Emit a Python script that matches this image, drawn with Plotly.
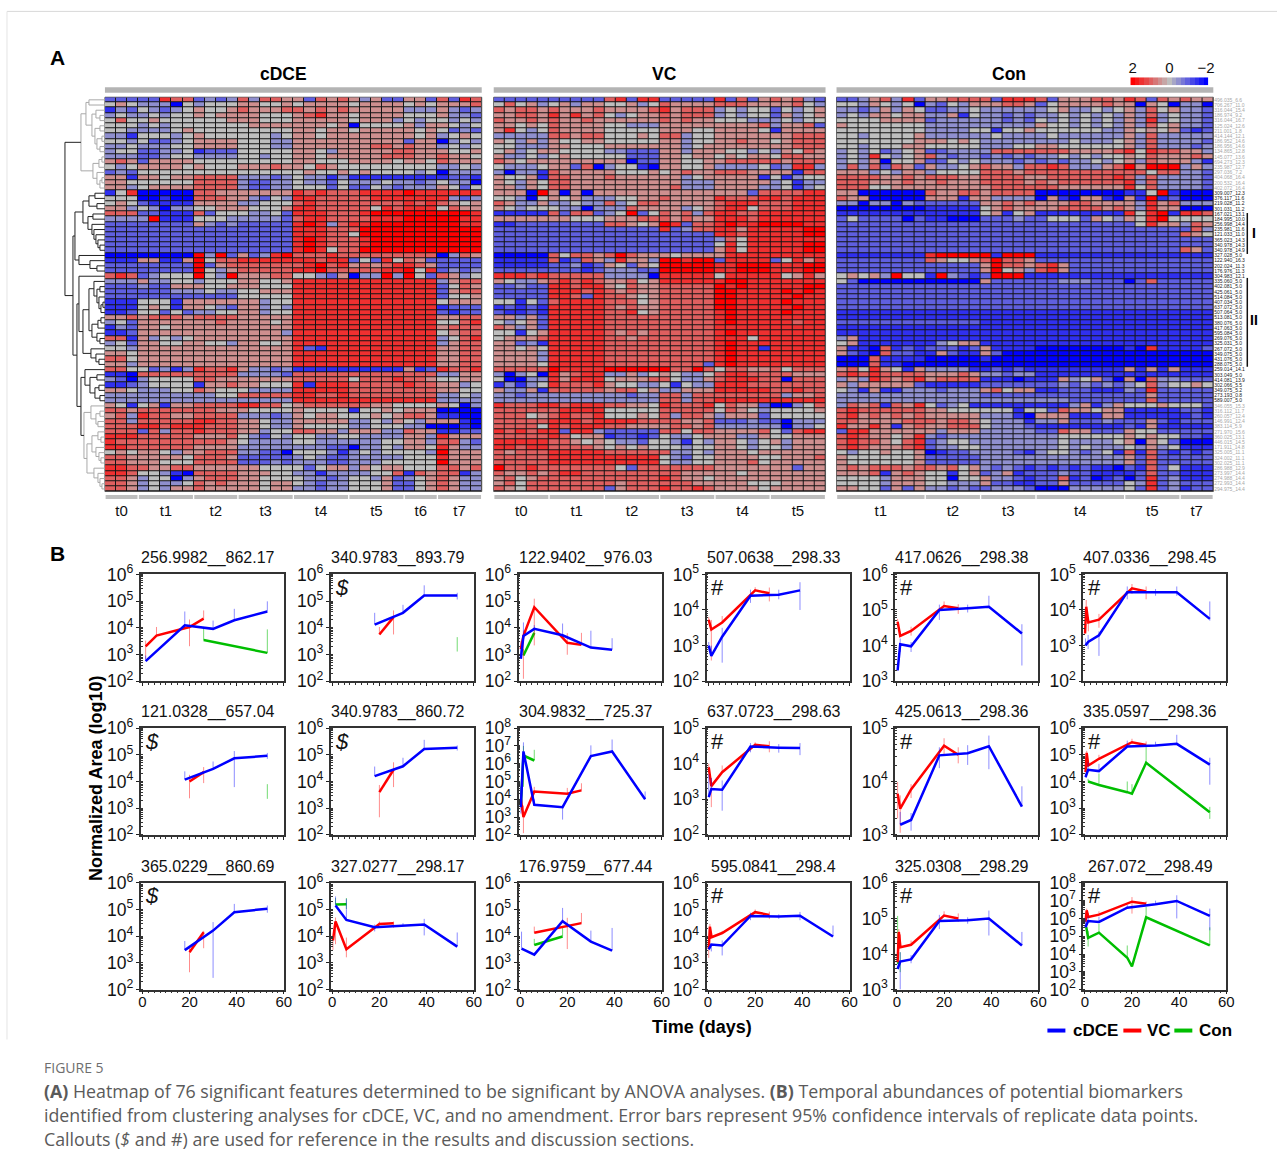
import plotly.graph_objects as go

W, H = 1285, 1171
FONT = "Liberation Sans"
CAP = "Open Sans"

# ---------- heatmap data: one digit per cell, 0 = -2 (blue) .. 4 = 0 (grey) .. 8 = +2 (red)
CDCE_ROWS = [
"222 22766 2323 63665 52656 53522 552 6276","454 33304 3444 55445 45555 45555 454 5556",
"132 43234 5445 65556 65656 55555 333 5323","343 34344 5455 55444 56755 45555 444 5332",
"464 45444 4445 55444 55555 45553 434 4343","444 34344 4444 45555 55545 04444 535 5434",
"443 33345 4444 44444 55455 45555 545 4232","331 44434 5444 44434 55455 55555 545 3454",
"443 42234 5555 44433 55555 55555 255 0343","334 33344 5555 44433 55555 55665 655 3434",
"344 22334 1222 44444 55435 55556 655 5445","333 22344 3333 44344 55455 55566 655 6554",
"565 25555 4444 44444 55444 55554 554 6555","434 55554 5444 55565 54654 44444 444 3343",
"232 44444 4444 44444 45445 45444 434 0333","551 55455 6666 33323 43313 11111 111 1221",
"554 44444 6666 32233 43324 33343 323 4330","553 45555 6666 32233 44424 22432 333 5424",
"147 00000 6655 55555 76766 67777 877 7777","444 00100 6665 53243 77666 66777 777 7323",
"454 21111 5555 33444 67666 66666 767 6545","553 43033 4455 54445 77666 66476 777 4655",
"666 22111 6244 43342 77766 67888 888 8887","333 38111 4443 33332 67766 66777 888 8877",
"222 22222 5323 22222 78736 77888 888 8877","222 22222 2222 22222 77766 68888 888 8888",
"222 22222 2222 22222 77766 48888 888 8888","222 22222 2222 22222 78766 67888 888 8888",
"222 22222 2222 22222 78766 67888 888 8888","222 22222 2222 22222 78746 68888 888 8888",
"000 00000 8382 52378 66676 66666 666 0365","111 55115 8466 77777 77677 24274 652 2222",
"222 22222 8256 66666 67867 56567 765 2222","222 22222 8435 66666 77866 66677 847 2323",
"676 23444 8438 55566 44325 03383 842 6534","333 53344 3444 55445 77777 77777 777 3566",
"222 32255 5445 55444 77777 77777 777 2465","222 22233 3433 44555 77777 77777 777 2566",
"222 22222 2222 44444 77777 77777 777 2445","111 44415 5555 55344 77777 77777 777 4555",
"111 45415 5432 55343 77777 77777 777 1222","112 44242 3344 55344 77777 77777 777 2122",
"556 56665 6666 55555 77777 77777 777 5566","342 55555 5565 55545 77777 77777 777 4467",
"132 55455 5555 55555 77777 77777 777 5666","112 55555 5555 55553 77777 77777 777 4566",
"661 53434 5555 55555 77777 77777 777 3467","342 55445 5443 55445 77777 77777 777 3566",
"443 55555 5555 55555 72177 77777 777 5566","554 55555 5555 55555 77777 77777 777 5566",
"664 55555 5555 55555 77777 77777 777 5566","553 55555 5555 55555 77777 77777 777 5566",
"664 42313 7667 53323 11111 11111 512 7667","110 66666 6666 33332 66666 66666 666 3355",
"320 34444 6655 55555 66666 46667 665 4455","112 34444 1556 55444 71777 66666 766 5534",
"554 33344 6544 43333 77777 66666 666 5544","333 33333 3344 66666 77667 66666 666 3343",
"333 33333 3333 33333 77777 77777 777 3333","541 45155 6666 77664 56666 66554 444 5403",
"665 66666 6655 54444 54444 14454 555 0000","563 76655 6666 33323 54554 44545 665 1100",
"663 66666 7766 55433 55555 33435 435 5510","666 77677 7666 55433 54444 33444 330 0010",
"666 26366 7666 55344 66553 55533 655 1122","777 66666 5556 43243 44334 43333 553 7555",
"766 66666 6665 43333 44333 33344 553 6632","776 66666 5555 33333 33322 03343 554 7533",
"454 55435 5666 33220 44431 34344 443 8555","665 55554 6665 22222 34322 33333 444 7555",
"665 55444 6666 22232 33322 33344 444 8555","776 65566 5555 55444 42455 35455 444 6656",
"776 44310 6666 55544 33133 33446 165 6613","665 34403 5666 55444 43323 44352 345 6533",
"665 34334 6565 55455 43233 44452 245 6533","665 34355 6555 55455 33233 44452 245 6533",
]
VC_ROWS = [
"22222 22222 67277 22222 72625 65632","46453 45355 44534 65555 66655 55643","65665 65556 55556 75666 34344 24345",
"55665 75756 43455 65666 34344 25345","65565 65565 55555 65655 44433 34344","55454 65555 44333 55555 55556 35562",
"57434 65555 44444 55544 55554 15555","33333 66566 44454 66344 55555 55666","54353 54455 44444 55344 55655 45666",
"44333 55444 55555 55345 55555 55666","45345 54444 33222 55355 54434 35465","53343 45444 44222 55455 45455 46655",
"65455 55555 55022 55445 56666 65666","43334 55260 34410 55445 33334 23773","30331 65555 54445 45655 66655 55166",
"54451 66555 65555 55345 55551 41344","54354 66555 55555 55333 55555 34133","55354 66555 55555 56333 55553 34134",
"55508 50505 55555 55555 55526 66677","44304 54533 34455 65555 76667 76777","65335 33433 63466 55555 67776 66777",
"54344 43303 33655 55345 67746 66777","11111 62662 34824 65636 77667 77777","55555 55444 55566 65655 77767 77777",
"11222 22222 66545 87266 78778 88877","22222 22222 22222 72366 77577 77788","22222 22222 22222 22222 77677 77788",
"22222 22222 22222 22222 36477 77777","22222 22222 22222 22222 47477 77788","22222 22222 22222 22222 57477 77788",
"00000 64665 68655 54555 57777 77777","11111 61265 37553 88788 27777 24757","11111 22312 54254 88888 77888 77788",
"22222 22212 33322 88888 77888 77788","77767 66666 33330 77777 47777 74575","54335 67676 55645 77777 78877 77777",
"22322 77677 54655 66666 87877 77788","22222 77767 65655 66666 88777 78787","22222 77627 66545 66666 88777 77877",
"44142 67777 66645 66666 88777 78777","12121 77777 65655 66666 88777 77877","21121 77777 66745 66666 78777 78777",
"55352 77777 66666 66666 78777 77777","43452 77777 66666 66666 78777 77677","65352 77777 66666 66666 77777 77777",
"44145 77777 65656 66666 78777 77777","45556 77777 66566 66666 77747 77777","55231 77777 66666 66666 78777 77777",
"55454 77777 66666 66666 78771 77777","55553 77777 66666 66666 78777 77777","55553 77777 66666 66666 78777 77777",
"55554 77777 66666 66662 78777 77777","66666 87777 88888 86686 46655 64666","30340 75677 33534 54334 67766 66555",
"40033 75777 45556 64335 67776 60666","13134 76667 54433 41433 77766 66666","53351 66666 56645 33555 77777 66766",
"33233 33333 33233 66366 66666 63556","33333 33333 33333 66366 77777 77777","76667 76777 66554 76667 46552 00346",
"66666 67777 44444 66666 46543 44445","66645 67667 44454 63665 35552 44444","66666 77767 77766 66556 22232 20333",
"66664 76777 66555 56656 33333 30334","76767 72773 22222 66466 55556 42677","66666 76455 12212 43345 55335 44555",
"77777 66545 43324 43143 55434 53555","77677 66665 45454 44344 55434 43555","65666 77777 66666 63343 55545 55555",
"66666 77777 77777 43244 55554 45556","66666 77777 77777 43344 55564 55555","86676 66666 64266 66666 55555 55255",
"65565 67766 66666 66555 55455 55555","56456 66666 66666 76554 55555 55555","56466 66666 65666 66655 55544 45555",
"65466 66666 25666 76676 55554 55555",
]
CON_ROWS = [
"22356372 55666 62777 62555665 76265 655","44354340 32435 55665 24555565 50540 330","33235354 22334 33333 34533434 53645 332",
"34355455 33514 33232 33434343 53634 332","44445555 23333 33232 43434343 53734 332","54444444 33333 33333 54434343 53645 332",
"44444444 33334 41445 44444433 54545 212","44344445 33333 34333 34333333 53633 333","44444445 55454 33333 33343334 53633 332",
"44344455 44444 33344 55444444 53633 323","34342345 22333 36666 66655556 74766 553","34374345 63233 23232 33434344 54655 565",
"34350445 22434 33323 23233434 53655 531","36362652 53345 65536 67633356 85888 353","55534355 34444 66656 66666666 66466 332",
"66665565 66655 66665 56666667 63633 332","66655565 56555 66665 65666666 73633 332","66644555 55555 56666 66555555 74633 332",
"55000000 65566 56666 00000000 11481 000","65500000 55515 53333 05105510 51812 000","33033032 22222 55656 55566555 53756 333",
"00000000 11111 45655 55666656 53755 000","11111111 11111 45145 11111111 74781 776","24222202 11000 22232 24442543 54784 444",
"22222222 22222 22222 22222222 24755 365","22222222 22222 22222 22222222 22222 263","22222222 22222 22222 22222222 22222 654",
"22222222 22222 22222 22222222 22222 222","22222222 22222 22222 22222222 22222 222","22222222 22222 22222 22222222 22222 652",
"11111111 78888 81888 11111111 11111 111","22222222 65445 68665 22222222 22222 222","22222222 22222 58665 67522222 22222 222",
"22222222 22222 58453 67522222 22222 222","45453844 18321 28881 11111111 11111 111","42000000 00000 52222 22333222 02622 222",
"22222222 22222 22222 22222222 22222 222","22222222 22222 22222 22222222 22222 222","22222222 22222 22222 22222222 22222 222",
"22222222 22222 22222 22222222 22222 222","22222222 22222 22222 22222222 22222 222","11111111 11111 11111 11111111 11111 111",
"11111111 11111 11111 11111111 11111 111","22222222 22222 11111 11111111 11111 111","11111111 11111 11111 11111111 11111 111",
"11111111 11111 11111 11111111 11111 111","35111111 11111 11111 11111111 11111 111","45111111 13455 11111 11111111 11111 111",
"51106121 22212 51111 00000000 10711 112","52106221 15211 52000 00000000 00000 000","00061111 00000 10000 00000000 00000 000",
"00061100 00000 00000 00000000 00000 000","56475415 33331 12121 11111111 51515 111","67676666 55565 33233 11111111 11111 111",
"35376567 56666 11101 11534520 50633 222","53555552 11111 22222 22323232 34634 454","43151133 32333 56455 11222111 32722 222",
"33333333 33333 22222 22222222 22522 222","33333333 33333 33333 33322222 22622 222","36561657 42341 11111 11135135 44454 442",
"67666666 55444 44414 42655455 11111 221","67565656 55555 33310 55511155 11111 121","66555566 65665 43331 33522232 22521 222",
"75575156 55666 43332 11111111 21511 111","27755555 53555 33333 22655222 54422 222","67655457 32333 33333 33444444 54544 221",
"67665467 23443 33333 33433334 50542 000","67655567 23344 33333 33434333 43534 111","43445445 01223 33321 34432341 61621 212",
"54444445 22222 33333 33333333 52622 222","54444445 22222 33333 33333333 52622 222","56566656 65645 32321 21212110 21624 111",
"55561565 44145 23512 22322111 12622 111","44443555 44044 53321 22612012 02723 111","44443555 44333 52211 22522222 43723 222",
"55442525 33232 23332 00033333 42723 122",
]
ROW_LABELS = ["496.035_6.6","706.267_11.0","316.044_15.4","186.974_9.2","316.044_16.7","125.024_12.6","211.001_1.8","414.144_12.1",
"186.952_14.6","186.956_14.6","134.865_12.8","145.077_13.6","694.273_12.3","235.987_12.7","297.036_7.2","404.068_16.4","200.532_16.4",
"402.072_16.4","309.007_12.3","376.117_11.6","219.028_11.2","301.031_11.2","167.021_13.1","184.995_10.0","256.998_14.4","235.981_11.6",
"121.033_11.0","365.023_14.3","340.978_14.3","340.978_14.9","327.028_5.0","122.940_16.3","202.024_11.3","176.976_11.3","304.983_12.1",
"335.060_5.0","402.081_5.0","425.061_5.0","514.084_5.0","407.034_5.0","637.072_5.0","507.064_5.0","513.081_5.0","380.076_5.0",
"417.063_5.0","595.084_5.0","269.076_5.0","325.031_5.0","267.072_5.0","349.075_5.0","431.076_5.0","288.075_5.0","259.014_14.1",
"303.049_5.0","414.081_13.9","302.066_5.5","349.075_5.2","273.193_0.8","589.007_5.0","346.055_15.3","316.112_11.7","260.057_12.4",
"146.991_12.4","383.114_5.9","271.970_15.6","360.025_13.1","446.015_14.5","171.911_14.8","325.005_11.1","324.002_11.1","302.025_11.1",
"286.988_12.9","273.997_14.4","274.988_14.4","272.993_14.4","294.975_14.4"]
CDCE_GROUPS = [("t0",3),("t1",5),("t2",4),("t3",5),("t4",5),("t5",5),("t6",3),("t7",4)]
VC_GROUPS = [("t0",5),("t1",5),("t2",5),("t3",5),("t4",5),("t5",5)]
CON_GROUPS = [("t1",8),("t2",5),("t3",5),("t4",8),("t5",5),("t7",3)]
COLORBAR_VALUES = [2,1.75,1.5,1.25,1,.75,.5,.25,0,-.25,-.5,-.75,-1,-1.25,-1.5,-1.75,-2]

# dendrogram: [height, child, child]; leaves are row numbers
TREE_TOP = [24,[19,[16,0,1],[13,[9,2,[5,3,4]],[10,[5,5,6],[8,[3,7,8],[5,9,10]]]]],[12,[6,[3,11,12],13],[8,14,[5,[3,15,16],17]]]]
TREE_M1 = [22,[16,[10,18,19],[8,20,21]],[17,[12,22,23],[13,24,[11,25,[9,26,[7,27,[5,28,29]]]]]]]
TREE_M2 = [26,30,[15,31,[8,32,33]]]
TREE_L = [22,[16,[11,35,[8,[5,36,37],[6,38,[4,[2,39,40],41]]]],[13,[7,[4,42,43],44],[8,45,[5,46,47]]]],[14,48,[9,49,[6,50,51]]]]
TREE_N = [20,52,[15,[8,53,54],[10,[6,55,56],[5,57,58]]]]
TREE_G = [21,[14,59,[9,[5,60,61],[7,62,63]]],[18,[13,[7,64,[4,65,66]],[9,67,[6,68,[4,69,70]]]],[11,71,[7,72,[5,73,[3,74,75]]]]]]
TREE_ROOT = [40,TREE_TOP,[32,[30,TREE_M1,TREE_M2],[28,[26,34,TREE_L],[24,TREE_N,TREE_G]]]]
GREY_LEAVES = set(range(0,18)) | set(range(59,76))

# ---------- line panels
PANEL_TITLES = ["256.9982__862.17","340.9783__893.79","122.9402__976.03","507.0638__298.33","417.0626__298.38","407.0336__298.45",
"121.0328__657.04","340.9783__860.72","304.9832__725.37","637.0723__298.63","425.0613__298.36","335.0597__298.36",
"365.0229__860.69","327.0277__298.17","176.9759__677.44","595.0841__298.4","325.0308__298.29","267.072__298.49"]
PANEL_MARKS = ["","$","","#","#","#","$","$","","#","#","#","$","","","#","#","#"]
PANEL_LOG_RANGES = [(2,6),(2,6),(2,6),(2,5),(3,6),(2,5),(2,6),(2,6),(2,8),(2,5),(3,5),(2,6),(2,6),(2,6),(2,6),(2,6),(3,6),(2,8)]
# every point: (day, log10 value, log10 upper bar, log10 lower bar)
CDCE_POINTS = [
[(1.4,2.75,2.96,None),(18,4.09,4.61,None),(30,3.96,4.27,None),(39,4.28,4.71,None),(53,4.61,4.99,None)],
[(18,4.12,4.56,None),(30,4.56,4.86,None),(39,5.21,5.59,None),(53,5.21,5.31,5.06)],
[(0.3,2.84,3.2,None),(1.4,3.69,4.2,None),(6,3.96,4.1,None),(18,3.72,4.16,None),(30,3.26,3.89,None),(39,3.18,3.61,None)],
[(0.3,3.0,3.1,None),(1.4,2.71,3.0,None),(6,3.25,3.5,2.52),(18,4.4,4.57,4.2),(30,4.43,4.57,4.3),(39,4.55,4.78,4.0)],
[(0.3,3.3,3.5,None),(1.4,4.04,4.2,3.82),(6,3.98,4.1,3.82),(18,5.0,5.15,4.72),(30,5.05,5.15,4.93),(39,5.09,5.4,None),(53,4.34,4.6,3.44)],
[(0.3,3.0,3.2,None),(1.4,3.1,3.3,2.9),(6,3.29,3.4,2.71),(18,4.5,4.66,4.3),(30,4.5,4.59,4.4),(39,4.5,4.66,4.4),(53,3.75,4.24,3.7)],
[(18,4.07,4.38,None),(30,4.47,4.75,None),(39,4.87,5.14,3.79),(53,4.96,5.07,4.85)],
[(18,4.2,4.56,None),(30,4.57,4.89,None),(39,5.22,5.56,None),(53,5.26,5.35,5.16)],
[(0.3,3.56,4.7,3.2),(1.4,6.69,7.2,None),(6,3.69,4.0,None),(18,3.56,None,2.86),(30,6.43,7.03,None),(39,6.69,7.36,None),(53,4.0,4.44,None)],
[(0.3,3.06,3.7,None),(1.4,3.29,3.6,None),(6,3.27,3.53,2.68),(18,4.48,4.58,4.32),(30,4.45,4.55,4.31),(39,4.44,4.58,4.24)],
[(1.4,3.19,3.43,None),(6,3.28,3.41,3.08),(18,4.49,4.64,4.25),(30,4.53,4.68,4.31),(39,4.66,4.86,4.23),(53,3.53,3.91,None)],
[(0.3,4.16,4.3,None),(1.4,4.44,4.72,None),(6,4.39,4.66,None),(18,5.31,5.53,None),(30,5.35,5.49,None),(39,5.41,5.75,None),(53,4.63,4.89,3.88)],
[(18,3.48,3.82,None),(30,4.21,4.53,2.44),(39,4.9,5.21,None),(53,5.03,5.15,4.88)],
[(1.4,5.15,5.49,None),(6,4.61,5.4,None),(18,4.34,4.44,4.18),(30,4.4,4.49,None),(39,4.44,4.65,4.03),(53,3.61,4.14,None)],
[(0.6,3.54,4.17,None),(6,3.31,None,None),(18,4.56,5.06,None),(30,3.8,4.21,None),(39,3.46,4.31,None)],
[(0.3,3.51,None,None),(1.4,3.69,None,3.43),(6,3.65,3.84,3.28),(18,4.76,4.88,4.6),(30,4.74,4.82,4.65),(39,4.77,4.91,4.6),(53,3.99,4.4,None)],
[(0.3,3.58,None,None),(1.4,3.79,4.05,3.0),(6,3.85,3.97,3.74),(18,4.93,5.1,4.7),(30,4.95,5.03,4.85),(39,5.0,5.22,4.52),(53,4.24,4.62,None)],
[(0.3,5.5,6.0,None),(1.4,5.85,6.1,None),(6,5.8,6.1,None),(18,6.6,6.75,None),(30,6.8,7.0,None),(39,6.98,7.3,6.0),(53,6.14,6.55,5.33)],
]
VC_POINTS = [
[(1.4,3.3,3.52,2.83),(6,3.71,4.03,None),(20,4.03,4.31,3.31),(26,4.34,4.65,None)],
[(20,3.75,4.03,None),(26,4.4,4.65,3.75)],
[(0.3,3.2,3.5,None),(1.4,3.7,3.9,2.09),(6,4.77,5.09,3.34),(20,3.44,3.8,2.99),(26,3.36,3.81,None)],
[(0.3,3.72,3.8,None),(1.4,3.45,3.72,2.58),(6,3.65,3.83,None),(20,4.55,4.64,None),(26,4.47,4.63,4.24)],
[(0.3,4.67,4.75,None),(1.4,4.27,4.4,None),(6,4.41,4.53,4.28),(20,5.11,5.24,None),(26,5.05,5.16,4.89)],
[(0.1,3.34,3.6,None),(0.6,4.09,4.28,None),(1.5,3.65,3.8,3.4),(6,3.73,3.89,3.5),(20,4.61,4.73,4.45),(26,4.52,4.66,4.3)],
[(20,4.0,4.25,3.37),(26,4.35,4.54,3.94)],
[(20,3.6,3.87,2.66),(26,4.44,4.72,3.79)],
[(0.3,4.0,4.3,None),(1.4,3.0,3.65,2.1),(6,4.44,4.7,None),(20,4.31,4.64,None),(26,4.5,4.9,None)],
[(0.3,3.9,4.0,None),(1.4,3.37,3.6,2.78),(6,3.76,3.95,None),(20,4.53,4.6,None),(26,4.49,4.63,4.32)],
[(0.3,3.77,3.99,3.31),(1.4,3.49,3.74,3.04),(6,3.85,3.95,3.69),(20,4.67,4.81,4.49),(26,4.5,4.64,4.34)],
[(0.3,4.35,4.6,None),(0.8,5.07,5.15,None),(1.5,4.6,4.7,None),(6,4.85,5.0,None),(20,5.47,5.6,None),(26,5.37,5.5,None)],
[(20,3.4,3.6,2.65),(26,4.15,4.2,3.55)],
[(0.3,3.84,None,3.49),(1.4,4.55,4.7,3.7),(6,3.51,3.95,3.21),(20,4.46,4.55,None),(26,4.49,4.55,4.32)],
[(6,4.13,4.36,None),(20,4.4,4.69,3.52),(26,4.49,4.87,None)],
[(0.3,3.53,None,3.19),(0.8,4.36,4.46,None),(1.5,3.96,4.1,None),(6,4.12,4.2,None),(20,4.9,5.0,None),(26,4.8,4.92,4.65)],
[(0.3,3.77,None,None),(0.8,4.62,4.7,None),(1.5,4.19,4.55,None),(6,4.26,4.38,None),(20,5.08,5.2,None),(26,5.0,5.14,4.9)],
[(0.3,5.8,None,None),(0.8,6.45,6.55,None),(1.5,6.08,6.3,None),(6,6.21,6.4,None),(20,6.94,7.2,6.27),(26,6.83,6.95,None)],
]
CON_POINTS = [
[(26,3.54,3.96,None),(53,3.06,3.94,None)],
[(53,3.11,3.65,None)],
[(1.4,2.96,3.2,None),(6,3.81,4.0,None)],
[],[],[],
[(53,3.35,3.9,None)],
[],
[(0.3,3.65,4.0,None),(1.4,6.46,7.0,4.7),(6,6.18,6.78,None)],
[],[],
[(1.4,4.0,4.1,None),(6,3.87,4.3,None),(18,3.6,4.0,None),(20,3.54,3.9,None),(26,4.7,5.29,None),(53,2.85,3.05,2.6)],
[],
[(1.4,5.19,5.43,None),(6,5.2,5.43,5.02)],
[(6,3.67,3.9,None),(18,3.99,4.31,None)],
[],
[(0.3,3.72,5.07,None),(1.4,3.79,4.05,3.49)],
[(0.6,5.52,5.7,None),(1.4,4.91,5.3,4.42),(6,5.2,5.7,None),(18,3.79,4.48,None),(20,3.3,3.5,None),(26,6.06,6.64,None),(53,4.48,5.5,None)],
]

CAPTION_HEAD = "FIGURE 5"
CAPTION_LINES = [
"<b>(A)</b> Heatmap of 76 significant features determined to be significant by ANOVA analyses. <b>(B)</b> Temporal abundances of potential biomarkers",
"identified from clustering analyses for cDCE, VC, and no amendment. Error bars represent 95% confidence intervals of replicate data points.",
"Callouts (<i>$</i> and #) are used for reference in the results and discussion sections.",
]
LEGEND_ITEMS = [("cDCE", "#0000FF", 1048, 1072), ("VC", "#FF0000", 1124, 1146), ("Con", "#00BE00", 1175, 1198)]

# ---------- helpers: target picture pixels to paper fractions (the photograph shows the page slightly scaled)
SX, AX, SY, AY = 0.992, 3.0, 0.983, 10.6
def fx(t): return (t - AX) / SX / W
def fy(t): return 1 - (t - AY) / SY / H
def xdom(a, b): return [fx(a), fx(b)]
def ydom(top, bot): return [fy(bot), fy(top)]
def cells(rows, n):
    out = []
    for r in rows:
        s = r.replace(" ", "")
        s = (s + s[-1] * n)[:n]
        out.append([(int(c) - 4) / 2 for c in s])
    return out

fig = go.Figure()
shapes, annos = [], []
layout = {}

# ---------- heatmaps
HEATS = [("cDCE", CDCE_ROWS, CDCE_GROUPS, 105, 482, 284), ("VC", VC_ROWS, VC_GROUPS, 494, 826, 665), ("Con", CON_ROWS, CON_GROUPS, 837, 1214, 1010)]
for i, (name, rows, groups, x0, x1, tx) in enumerate(HEATS, start=1):
    n = sum(g[1] for g in groups)
    fig.add_trace(go.Heatmap(z=cells(rows, n), x=list(range(n)), y=list(range(len(rows))), xgap=1, ygap=1,
                             coloraxis="coloraxis", xaxis=f"x{i}", yaxis=f"y{i}", hoverinfo="skip", showlegend=False))
    shapes.append(dict(type="rect", xref="paper", yref="paper", x0=fx(x0), x1=fx(x1), y0=fy(491), y1=fy(96), fillcolor="#151515", line=dict(color="#555", width=1), layer="below"))
    ticks, pos = [], 0
    for lab, k in groups:
        ticks.append(pos + (k - 1) / 2)
        shapes.append(dict(type="rect", xref=f"x{i}", yref="paper", x0=pos - 0.44, x1=pos + k - 0.56,
                           y0=fy(498.5), y1=fy(494.5), fillcolor="#BDBDBD", line_width=0))
        pos += k
    layout[f"xaxis{i}"] = dict(domain=xdom(x0, x1), anchor=f"y{i}", range=[-0.5, n - 0.5], tickmode="array", tickvals=ticks,
                               ticktext=[g[0] for g in groups], ticks="outside", ticklen=5, tickcolor="rgba(0,0,0,0)",
                               tickfont=dict(family=FONT, size=15, color="#111"), showgrid=False, zeroline=False, showline=False)
    ya = dict(domain=ydom(96, 491), anchor=f"x{i}", range=[len(rows) - 0.5, -0.5], showgrid=False, zeroline=False, showline=False, showticklabels=False, ticks="")
    if i == 3:
        ya.update(side="right", showticklabels=True, tickmode="array", tickvals=list(range(len(ROW_LABELS))),
                  ticktext=[f'<span style="color:{"#A8A8A8" if k in GREY_LEAVES else "#222"}">{t}</span>' for k, t in enumerate(ROW_LABELS)],
                  tickfont=dict(family=FONT, size=5), ticklen=0)
    layout[f"yaxis{i}"] = ya
    shapes.append(dict(type="rect", xref="paper", yref="paper", x0=fx(x0), x1=fx(x1), y0=fy(91.5), y1=fy(86), fillcolor="#B4B4B4", line_width=0))
    annos.append(dict(text=f"<b>{name}</b>", x=fx(tx), y=fy(73), font=dict(family=FONT, size=17.5, color="#000")))

# ---------- dendrogram
seg = {"#A9A9A9": ([], []), "#222222": ([], [])}
def leaves(t): return {t} if isinstance(t, int) else leaves(t[1]) | leaves(t[2])
def walk(t):
    if isinstance(t, int): return t, 0
    ya, ha = walk(t[1]); yb, hb = walk(t[2])
    col = "#A9A9A9" if leaves(t) <= GREY_LEAVES else "#222222"
    seg[col][0].extend([ha, t[0], t[0], hb, None]); seg[col][1].extend([ya, ya, yb, yb, None])
    return (ya + yb) / 2, t[0]
walk(TREE_ROOT)
for col, (xs, ys) in seg.items():
    fig.add_trace(go.Scatter(x=xs, y=ys, mode="lines", line=dict(color=col, width=1), xaxis="x4", yaxis="y4", hoverinfo="skip", showlegend=False))
layout["xaxis4"] = dict(domain=xdom(64, 105), anchor="y4", range=[41, 0], visible=False)
layout["yaxis4"] = dict(domain=ydom(96, 491), anchor="x4", range=[75.5, -0.5], visible=False)

# ---------- colour key
fig.add_trace(go.Heatmap(z=[COLORBAR_VALUES], x=COLORBAR_VALUES, y=[0], coloraxis="coloraxis", xaxis="x5", yaxis="y5", hoverinfo="skip", showlegend=False))
layout["xaxis5"] = dict(domain=xdom(1131, 1209), anchor="y5", range=[2.12, -2.12], side="top", tickmode="array", tickvals=[2, 0, -2],
                        ticktext=["2", "0", "−2"], ticks="", tickfont=dict(family=FONT, size=15, color="#111"), showgrid=False, zeroline=False)
layout["yaxis5"] = dict(domain=ydom(76, 84), anchor="x5", visible=False)

# ---------- brackets
for x, y0, y1, lab, ly in [(1248, 212, 253, "I", 232), (1248, 277, 366, "II", 319)]:
    shapes.append(dict(type="line", xref="paper", yref="paper", x0=fx(x), x1=fx(x), y0=fy(y0), y1=fy(y1), line=dict(color="#111", width=1.5)))
    annos.append(dict(text=f"<b>{lab}</b>", x=fx(1255), y=fy(ly), font=dict(family=FONT, size=14, color="#000")))

# ---------- line panels
LEFTS = [141, 331, 519, 707, 896, 1084]
TOPS = [574, 728, 883]
STYLES = [("Con", CON_POINTS, "#00BE00", "rgba(0,190,0,0.55)"), ("VC", VC_POINTS, "#FF0000", "rgba(255,0,0,0.45)"), ("cDCE", CDCE_POINTS, "#0000FF", "rgba(0,0,255,0.45)")]
for p, title in enumerate(PANEL_TITLES):
    ax = p + 6
    r, c = p // 6, p % 6
    left, top = LEFTS[c], TOPS[r]
    for name, table, col, ecol in STYLES:
        pts = table[p]
        if not pts: continue
        fig.add_trace(go.Scatter(
            x=[q[0] for q in pts], y=[10 ** q[1] for q in pts], mode="lines", name=name, showlegend=False,
            line=dict(color=col, width=2.5), xaxis=f"x{ax}", yaxis=f"y{ax}", hoverinfo="skip",
            error_y=dict(type="data", symmetric=False, width=0, thickness=1, color=ecol,
                         array=[(10 ** q[2] - 10 ** q[1]) if q[2] is not None else 0 for q in pts],
                         arrayminus=[(10 ** q[1] - 10 ** q[3]) if q[3] is not None else 0 for q in pts])))
    layout[f"xaxis{ax}"] = dict(domain=xdom(left, left + 143), anchor=f"y{ax}", range=[-0.6, 60], dtick=20, tick0=0, ticks="outside", ticklen=3,
                                tickcolor="#222", showline=True, mirror=True, linecolor="#333", linewidth=1.5, showgrid=False, zeroline=False,
                                showticklabels=r == 2, tickfont=dict(family=FONT, size=15, color="#111"), ticklabelstandoff=-5,
                                minor=dict(ticks="outside", ticklen=2, dtick=2.5, tick0=0, tickcolor="#333", showgrid=False))
    layout[f"yaxis{ax}"] = dict(domain=ydom(top, top + 107), anchor=f"x{ax}", type="log", range=list(PANEL_LOG_RANGES[p]), dtick=1, exponentformat="power",
                                showexponent="all", ticks="outside", ticklen=3, tickcolor="#222", showline=True, mirror=True, linecolor="#333", linewidth=1.5,
                                showgrid=False, zeroline=False, tickfont=dict(family=FONT, size=14, color="#111"),
                                minor=dict(ticks="inside", ticklen=2, tickcolor="#333", showgrid=False))
    annos.append(dict(text=title, x=fx(left + 67), y=fy(top - 16), font=dict(family=FONT, size=16, color="#111")))
    if PANEL_MARKS[p]:
        mark = f"<i>{PANEL_MARKS[p]}</i>" if PANEL_MARKS[p] == "$" else PANEL_MARKS[p]
        annos.append(dict(text=mark, x=fx(left + 11), y=fy(top + 13), font=dict(family=FONT, size=22, color="#111")))

# ---------- legend key
for name, col, lx, tx in LEGEND_ITEMS:
    shapes.append(dict(type="line", xref="paper", yref="paper", x0=fx(lx), x1=fx(lx + 18), y0=fy(1031), y1=fy(1031), line=dict(color=col, width=4)))
    annos.append(dict(text=f"<b>{name}</b>", x=fx(tx), y=fy(1031), xanchor="left", font=dict(family=FONT, size=17, color="#000")))

# ---------- free text
annos += [
    dict(text="<b>A</b>", x=fx(58), y=fy(56), font=dict(family=FONT, size=21, color="#000")),
    dict(text="<b>B</b>", x=fx(58), y=fy(553), font=dict(family=FONT, size=21, color="#000")),
    dict(text="<b>Normalized Area (log10)</b>", x=fx(96), y=fy(778), textangle=-90, font=dict(family=FONT, size=18, color="#000")),
    dict(text="<b>Time (days)</b>", x=fx(702), y=fy(1027), font=dict(family=FONT, size=18, color="#000")),
    dict(text=CAPTION_HEAD, x=fx(42), y=fy(1068), xanchor="left", font=dict(family=CAP, size=14, color="#6E6E6E")),
]
for k, line in enumerate(CAPTION_LINES):
    annos.append(dict(text=line, x=fx(42), y=fy(1092 + 24 * k), xanchor="left", font=dict(family=CAP, size=17.8, color="#5A5A5A")))
for a in annos:
    a.setdefault("xref", "paper"); a.setdefault("yref", "paper"); a.setdefault("showarrow", False)
    a.setdefault("xanchor", "center"); a.setdefault("yanchor", "middle")

shapes.append(dict(type="line", xref="paper", yref="paper", x0=fx(7), x1=1, y0=fy(10), y1=fy(10), line=dict(color="#D8D8D8", width=1)))
shapes.append(dict(type="line", xref="paper", yref="paper", x0=fx(7), x1=fx(7), y0=fy(10), y1=fy(1040), line=dict(color="#E4E4E4", width=1)))

fig.update_layout(width=W, height=H, margin=dict(l=0, r=0, t=0, b=0), paper_bgcolor="white", plot_bgcolor="rgba(0,0,0,0)",
                  coloraxis=dict(cmin=-2, cmax=2, showscale=False, colorscale=[[0, "#0000FF"], [0.5, "#BEBEBE"], [1, "#FF0000"]]),
                  shapes=shapes, annotations=annos, showlegend=False, **layout)
fig.write_html("out.html", config={"displayModeBar": False},
               post_script="document.body.style.margin='0';document.body.style.overflow='hidden';document.documentElement.style.overflow='hidden';")
